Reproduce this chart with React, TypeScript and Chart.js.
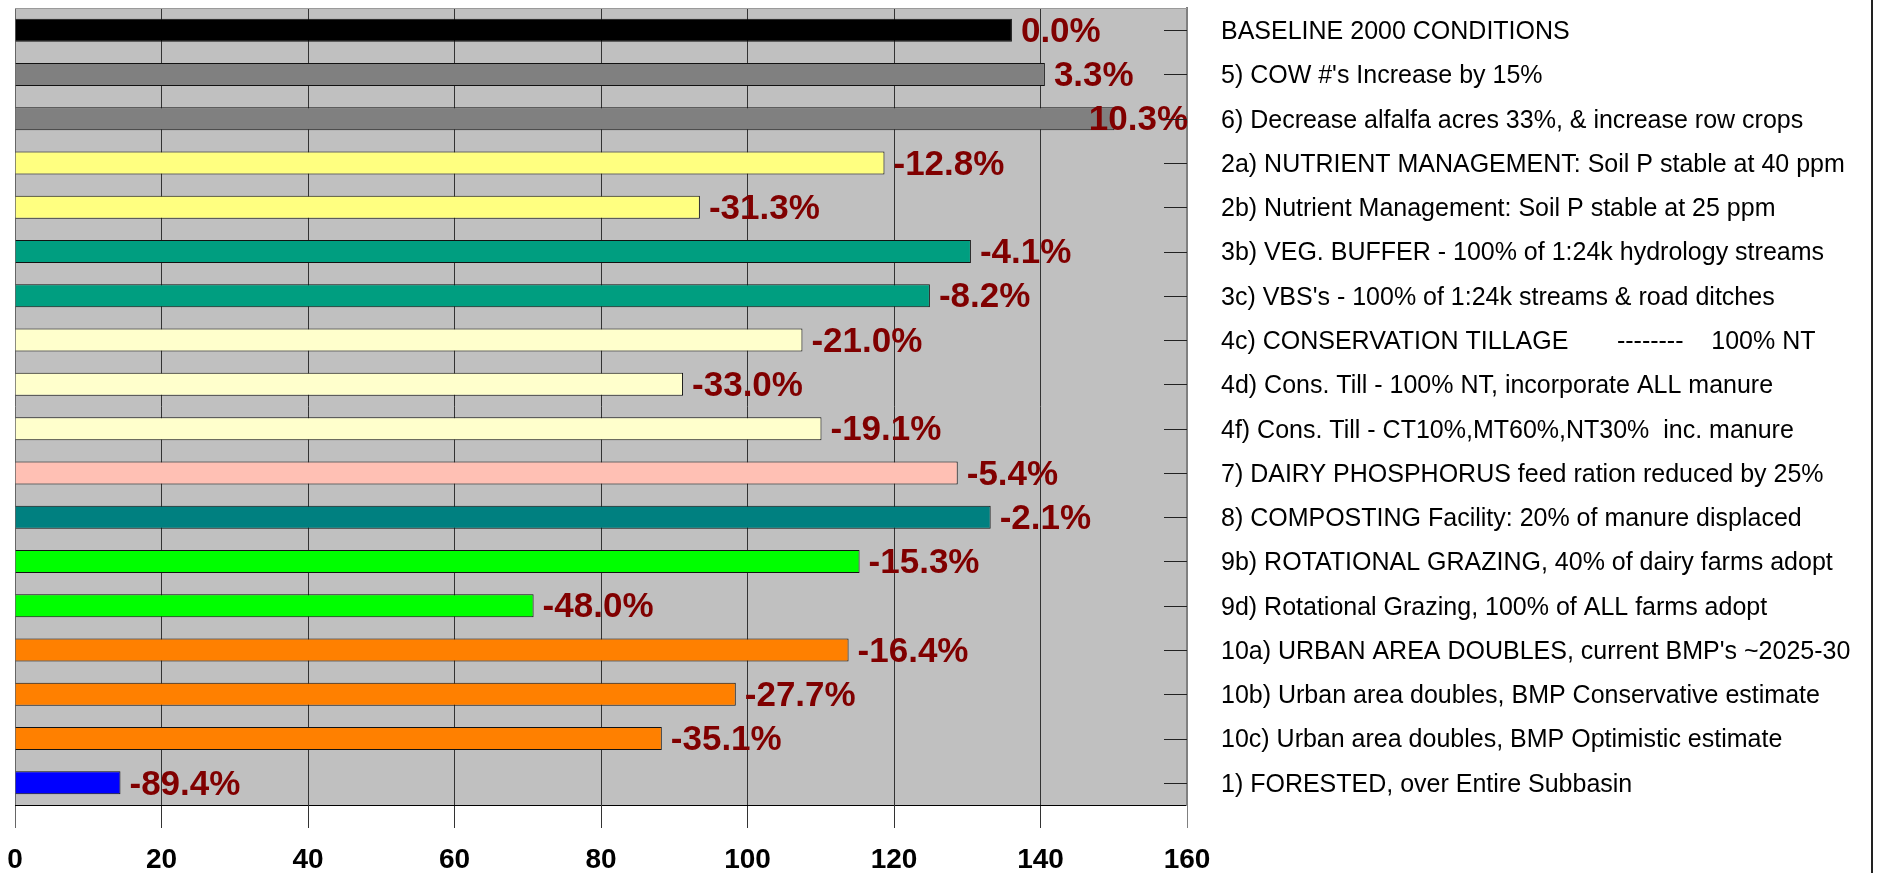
import React, { useEffect, useRef } from 'react';
import { Chart, registerables } from 'chart.js';

Chart.register(...registerables);

const categories: string[] = [
  'BASELINE 2000 CONDITIONS',
  "5) COW #'s Increase by 15%",
  '6) Decrease alfalfa acres 33%, & increase row crops',
  '2a) NUTRIENT MANAGEMENT: Soil P stable at 40 ppm',
  '2b) Nutrient Management: Soil P stable at 25 ppm',
  '3b) VEG. BUFFER - 100% of 1:24k hydrology streams',
  "3c) VBS's - 100% of 1:24k streams & road ditches",
  '4c) CONSERVATION TILLAGE       --------    100% NT',
  '4d) Cons. Till - 100% NT, incorporate ALL manure',
  '4f) Cons. Till - CT10%,MT60%,NT30%  inc. manure',
  '7) DAIRY PHOSPHORUS feed ration reduced by 25%',
  '8) COMPOSTING Facility: 20% of manure displaced',
  '9b) ROTATIONAL GRAZING, 40% of dairy farms adopt',
  '9d) Rotational Grazing, 100% of ALL farms adopt',
  "10a) URBAN AREA DOUBLES, current BMP's ~2025-30",
  '10b) Urban area doubles, BMP Conservative estimate',
  '10c) Urban area doubles, BMP Optimistic estimate',
  '1) FORESTED, over Entire Subbasin',
];

const values: number[] = [
  136.1, 140.6, 150.1, 118.7, 93.5, 130.5, 124.9, 107.5, 91.2,
  110.1, 128.7, 133.2, 115.3, 70.8, 113.8, 98.4, 88.3, 14.4,
];

const changeLabels: string[] = [
  '0.0%', '3.3%', '10.3%', '-12.8%', '-31.3%', '-4.1%', '-8.2%', '-21.0%', '-33.0%',
  '-19.1%', '-5.4%', '-2.1%', '-15.3%', '-48.0%', '-16.4%', '-27.7%', '-35.1%', '-89.4%',
];

const barColors: string[] = [
  '#000000', '#808080', '#808080', '#FFFF80', '#FFFF80', '#009E80', '#009E80',
  '#FFFFCC', '#FFFFCC', '#FFFFCC', '#FFC0B4', '#008080', '#00FF00', '#00FF00',
  '#FF8000', '#FF8000', '#FF8000', '#0000FF',
];

const xTicks: number[] = [0, 20, 40, 60, 80, 100, 120, 140, 160];

const FONT = '"Liberation Sans", Arial, Helvetica, sans-serif';

export default function App() {
  const ref = useRef<HTMLCanvasElement>(null);

  useEffect(() => {
    const decor = {
      id: 'decor',
      beforeDraw(chart: any) {
        const { ctx, chartArea: a } = chart;
        ctx.save();
        ctx.fillStyle = '#C0C0C0';
        ctx.fillRect(a.left, a.top, a.right - a.left, a.bottom - a.top);
        ctx.restore();
      },
      afterDatasetsDraw(chart: any) {
        const { ctx, chartArea: a } = chart;
        const meta = chart.getDatasetMeta(0);
        ctx.save();
        ctx.font = `bold 35px ${FONT}`;
        ctx.fillStyle = '#800000';
        ctx.textBaseline = 'middle';
        ctx.textAlign = 'left';
        meta.data.forEach((el: any, i: number) => {
          const t = changeLabels[i];
          const w = ctx.measureText(t).width;
          let x = el.x + 9;
          if (x + w > a.right + 1) x = a.right + 1 - w;
          ctx.fillText(t, x, el.y + 2);
        });
        // top border of plot
        ctx.strokeStyle = '#9A9A9A';
        ctx.lineWidth = 1;
        ctx.beginPath();
        ctx.moveTo(a.left, a.top + 0.5);
        ctx.lineTo(a.right, a.top + 0.5);
        ctx.stroke();
        // inside tick marks on the right axis
        const ys = chart.scales.y;
        ctx.strokeStyle = '#222';
        ys.ticks.forEach((_: any, i: number) => {
          const y = Math.round(ys.getPixelForTick(i)) + 0.5;
          ctx.beginPath();
          ctx.moveTo(a.right - 23, y);
          ctx.lineTo(a.right, y);
          ctx.stroke();
        });
        // outer right border
        ctx.fillStyle = '#222';
        ctx.fillRect(1871, 0, 2, chart.height);
        ctx.restore();
      },
    };

    const chart = new Chart(ref.current as HTMLCanvasElement, {
      type: 'bar',
      data: {
        labels: categories,
        datasets: [
          {
            data: values,
            backgroundColor: barColors,
            borderColor: '#111',
            borderWidth: 1,
            barPercentage: 0.52,
            categoryPercentage: 1,
          },
        ],
      },
      options: {
        indexAxis: 'y',
        animation: false,
        responsive: true,
        maintainAspectRatio: false,
        layout: { padding: { left: 15, top: 8, right: 0, bottom: 0 } },
        plugins: {
          legend: { display: false },
          tooltip: { enabled: false },
        },
        scales: {
          x: {
            type: 'linear',
            position: 'bottom',
            min: 0,
            max: 160,
            afterBuildTicks: (s: any) => {
              s.ticks = xTicks.map((v) => ({ value: v }));
            },
            grid: {
              color: (c: any) =>
                c.tick && c.tick.value === 0 ? '#666' : c.tick && c.tick.value === 160 ? '#808080' : '#333',
              lineWidth: 1,
              drawTicks: true,
              tickLength: 23,
            },
            border: { display: true, color: '#000', width: 1 },
            ticks: {
              color: '#000',
              padding: 15,
              font: { family: FONT, size: 28, weight: 'bold' },
            },
            afterFit: (s: any) => {
              s.height = 68;
              s.paddingLeft = 0;
              s.paddingRight = 0;
            },
          },
          y: {
            type: 'category',
            position: 'right',
            grid: {
              display: true,
              drawOnChartArea: false,
              drawTicks: true,
              tickLength: 34,
              tickColor: 'rgba(0,0,0,0)',
            },
            border: { display: true, color: '#808080', width: 2 },
            ticks: {
              color: '#000',
              padding: 0,
              autoSkip: false,
              labelOffset: 2,
              font: { family: FONT, size: 25 },
            },
            afterFit: (s: any) => {
              s.width = 692;
              s.paddingTop = 0;
              s.paddingBottom = 0;
            },
          },
        },
      },
      plugins: [decor],
    } as any);

    return () => chart.destroy();
  }, []);

  return (
    <div
      style={{
        position: 'fixed',
        left: 0,
        top: 0,
        width: 1879,
        height: 873,
        background: '#fff',
      }}
    >
      <canvas ref={ref} />
    </div>
  );
}
